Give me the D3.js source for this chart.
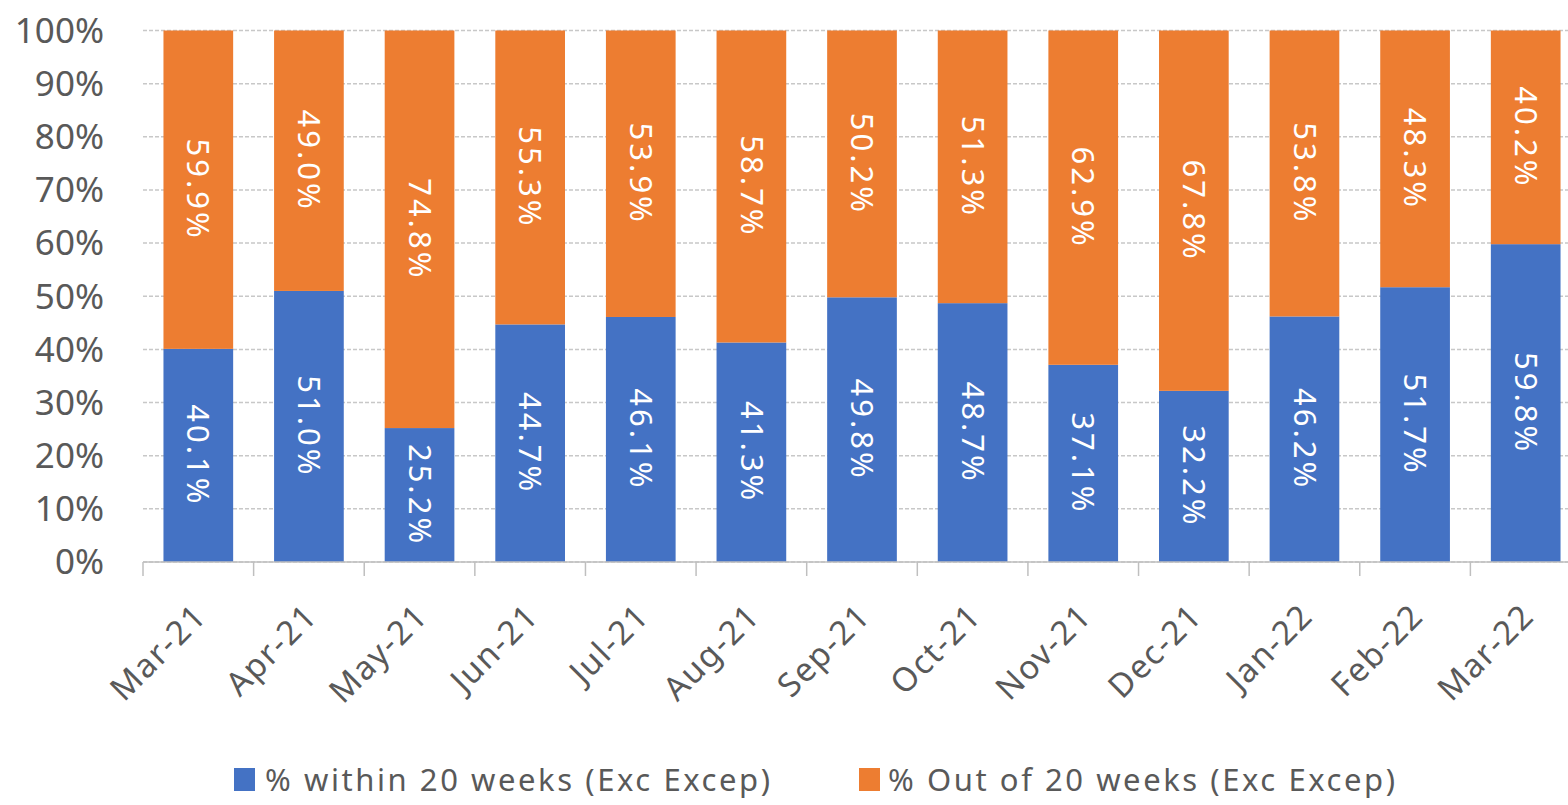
<!DOCTYPE html>
<html>
<head>
<meta charset="utf-8">
<script src="https://cdn.jsdelivr.net/npm/d3@7"></script>
<style>
  body { margin: 0; background: #fff; }
  svg { display: block; font-family: "Noto Sans", sans-serif; }
</style>
</head>
<body>
<svg id="chart" width="1568" height="805"></svg>
<script>
const months = ["Mar-21", "Apr-21", "May-21", "Jun-21", "Jul-21", "Aug-21", "Sep-21",
  "Oct-21", "Nov-21", "Dec-21", "Jan-22", "Feb-22", "Mar-22"];
const within = [40.1, 51.0, 25.2, 44.7, 46.1, 41.3, 49.8, 48.7, 37.1, 32.2, 46.2, 51.7, 59.8];
const outOf = [59.9, 49.0, 74.8, 55.3, 53.9, 58.7, 50.2, 51.3, 62.9, 67.8, 53.8, 48.3, 40.2];
const yTicks = [0, 10, 20, 30, 40, 50, 60, 70, 80, 90, 100];
const seriesNames = ["% within 20 weeks (Exc Excep)", "% Out of 20 weeks (Exc Excep)"];
const colors = ["#4472C4", "#ED7D31"];

const svg = d3.select("#chart");

const x = d3.scaleBand()
  .domain(months)
  .range([143, 1581])
  .paddingInner(0.37)
  .paddingOuter(0.185);

const y = d3.scaleLinear()
  .domain([0, 100])
  .range([562, 30.5]);

const step = x.step();

// gridlines
svg.append("g")
  .selectAll("line")
  .data(yTicks)
  .join("line")
  .attr("x1", 143)
  .attr("x2", 1568)
  .attr("y1", d => y(d))
  .attr("y2", d => y(d))
  .attr("stroke", "#c8c8c8")
  .attr("stroke-width", 1.5)
  .attr("stroke-dasharray", "4,2");

// y labels
svg.append("g")
  .selectAll("text")
  .data(yTicks)
  .join("text")
  .attr("x", 104)
  .attr("y", d => y(d))
  .attr("dy", "0.35em")
  .attr("text-anchor", "end")
  .attr("fill", "#595959")
  .attr("font-size", 35)
  .text(d => d + "%");

// stacked data
const rows = months.map((m, i) => ({ month: m, within: within[i], outOf: outOf[i] }));
const stack = d3.stack().keys(["within", "outOf"])(rows);

const layers = svg.append("g")
  .selectAll("g")
  .data(stack)
  .join("g")
  .attr("fill", (d, i) => colors[i]);

layers.selectAll("rect")
  .data(d => d)
  .join("rect")
  .attr("x", d => x(d.data.month))
  .attr("width", x.bandwidth())
  .attr("y", d => y(d[1]))
  .attr("height", d => y(d[0]) - y(d[1]));

// value labels, rotated
layers.selectAll("text")
  .data(d => d.map(p => ({ p: p, v: p[1] - p[0] })))
  .join("text")
  .attr("transform", d => {
    const cx = x(d.p.data.month) + x.bandwidth() / 2;
    const cy = y((d.p[0] + d.p[1]) / 2);
    return `translate(${cx},${cy}) rotate(90)`;
  })
  .attr("text-anchor", "middle")
  .attr("dy", "0.35em")
  .attr("fill", "#fff")
  .attr("font-size", 31)
  .attr("letter-spacing", 3)
  .text(d => d.v.toFixed(1) + "%");

// x axis line and ticks
svg.append("line")
  .attr("x1", 143).attr("x2", 1568)
  .attr("y1", y(0)).attr("y2", y(0))
  .attr("stroke", "#bfbfbf")
  .attr("stroke-width", 1.5);

svg.append("g")
  .selectAll("line")
  .data(months)
  .join("line")
  .attr("x1", d => x(d) - step * 0.185)
  .attr("x2", d => x(d) - step * 0.185)
  .attr("y1", y(0))
  .attr("y2", y(0) + 14)
  .attr("stroke", "#bfbfbf")
  .attr("stroke-width", 1.5);

// x labels
svg.append("g")
  .selectAll("text")
  .data(months)
  .join("text")
  .attr("transform", d => `translate(${x(d) + x.bandwidth() / 2 + 2},${y(0) + 48}) rotate(-45)`)
  .attr("text-anchor", "end")
  .attr("dy", "0.35em")
  .attr("fill", "#595959")
  .attr("font-size", 33)
  .attr("letter-spacing", 1.5)
  .text(d => d);

// legend
const legendX = [234, 859];
const legendW = [505, 507];
const legend = svg.append("g")
  .selectAll("g")
  .data(seriesNames)
  .join("g")
  .attr("transform", (d, i) => `translate(${legendX[i]},780)`);

legend.append("rect")
  .attr("x", 0).attr("y", -12)
  .attr("width", 21).attr("height", 23)
  .attr("fill", (d, i) => colors[i]);

legend.append("text")
  .attr("x", (d, i) => i === 0 ? 31 : 29)
  .attr("dy", "0.35em")
  .attr("fill", "#595959")
  .attr("font-size", 31)
  .attr("textLength", (d, i) => legendW[i])
  .attr("lengthAdjust", "spacing")
  .text(d => d);
</script>
</body>
</html>
